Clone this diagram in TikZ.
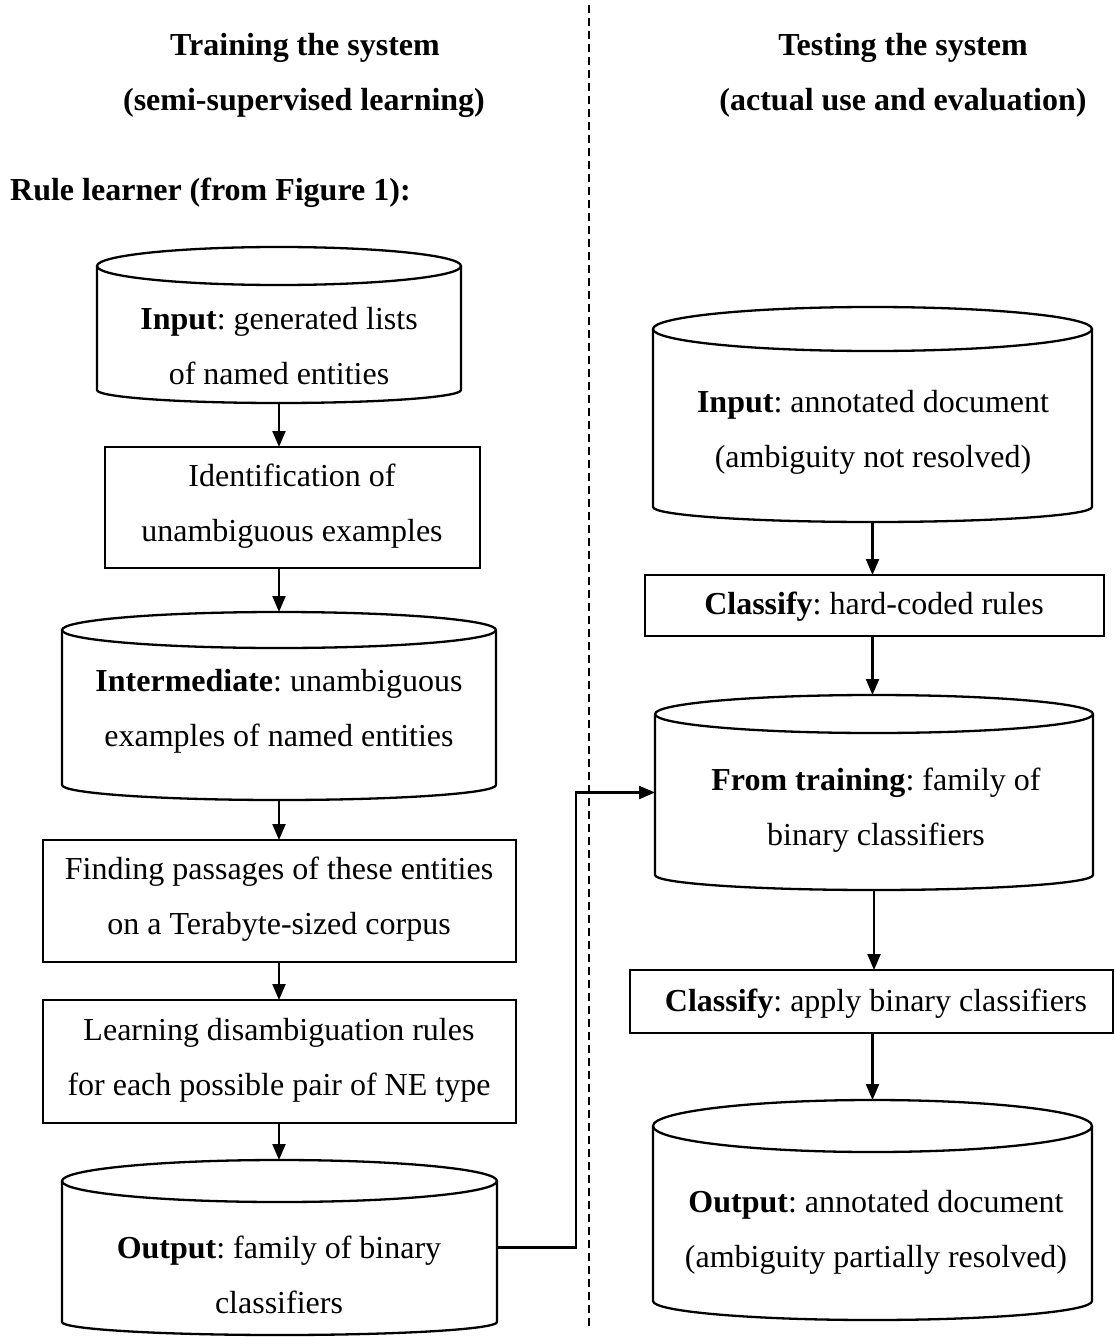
\documentclass[tikz,border=0pt]{standalone}
\usepackage{fontspec}
\setmainfont{Liberation Serif}
\usetikzlibrary{arrows.meta}
\frenchspacing

\tikzset{
  outline/.style={line width=2.3pt, line join=round},
  region/.style={draw=none, inner sep=0pt, outer sep=0pt, rectangle},
  stepbox/.style={draw, line width=2.3pt, inner sep=0pt, outer sep=0pt, rectangle},
  txt/.style={inner sep=0pt, align=center, font=\fontsize{32}{55}\selectfont},
  heading/.style={inner sep=0pt, align=center, font=\fontsize{32}{55}\selectfont\bfseries},
  flow/.style={line width=2.2pt, -{Triangle[length=16pt, width=13pt]}},
  divider/.style={line width=2.2pt, dash pattern=on 8pt off 5pt},
}

% Data store drawn as a cylinder: name, left, right, top, bottom, top radius, bottom depth
\newcommand\datastore[7]{%
  \node[region, minimum width={(#3-#2)*1pt}, minimum height={(#5-#4)*1pt}]
    (#1) at ({(#2+#3)/2},{-(#4+#5)/2}) {};
  \draw[outline] (#2,{-#4-#6}) -- (#2,{-#5+#7})
    arc[start angle=180, end angle=360, x radius={(#3-#2)/2}, y radius=#7]
    -- (#3,{-#4-#6});
  \draw[outline] ({(#2+#3)/2},{-#4-#6}) ellipse[x radius={(#3-#2)/2}, y radius=#6];
}
% Process box: name, left, right, top, bottom
\newcommand\procbox[5]{%
  \node[stepbox, minimum width={(#3-#2)*1pt}, minimum height={(#5-#4)*1pt}]
    (#1) at ({(#2+#3)/2},{-(#4+#5)/2}) {};
}

\begin{document}
\begin{tikzpicture}[x=1pt, y=1pt]
\useasboundingbox (0,0) rectangle (1114,-1337);

% column headings
\node[heading] (trainA) at (305,-48) {Training the system};
\node[heading] (trainB) at (304,-103) {(semi-supervised learning)};
\node[heading] (testA) at (903,-48) {Testing the system};
\node[heading] (testB) at (903,-103) {(actual use and evaluation)};
\node[heading, anchor=west] (rule) at (10,-193) {Rule learner (from Figure 1):};

% separator between the two phases
\coordinate (sepTop) at (589,-5);
\coordinate (sepBot) at (589,-1330);
\draw[divider] (sepTop) -- (sepBot);

% ---- training column ----
\datastore{inA}{97}{461}{247}{403}{19}{13}
\node[txt] (inAt) at (279,-346) {\textbf{Input}: generated lists\\of named entities};

\procbox{ident}{105}{480}{447}{568}
\node[txt] (identt) at (292,-506) {Identification of\\unambiguous examples};

\datastore{mid}{62}{496}{612}{800}{18}{15}
\node[txt] (midt) at (279,-711) {\textbf{Intermediate}: unambiguous\\examples of named entities};

\procbox{find}{43}{516}{840}{962}
\node[txt] (findt) at (279,-899) {Finding passages of these entities\\on a Terabyte-sized corpus};

\procbox{learn}{43}{516}{1000}{1123}
\node[txt] (learnt) at (279,-1060) {Learning disambiguation rules\\for each possible pair of NE type};

\datastore{outA}{62}{497}{1160}{1335}{21}{13}
\node[txt] (outAt) at (279,-1275) {\textbf{Output}: family of binary\\classifiers};

\draw[flow] (inA.south) -- (inA.south |- ident.north);
\draw[flow] (inA.south |- ident.south) -- (inA.south |- mid.north);
\draw[flow] (inA.south |- mid.south) -- (inA.south |- find.north);
\draw[flow] (inA.south |- find.south) -- (inA.south |- learn.north);
\draw[flow] (inA.south |- learn.south) -- (inA.south |- outA.north);

% ---- testing column ----
\datastore{inB}{653}{1092}{307}{522}{22}{15}
\node[txt] (inBt) at (873,-432) {\textbf{Input}: annotated document\\(ambiguity not resolved)};

\procbox{hard}{645}{1104}{575}{636}
\node[txt] (hardt) at (874,-607) {\textbf{Classify}: hard-coded rules};

\datastore{fam}{655}{1093}{695}{890}{19}{15}
\node[txt] (famt) at (876,-810) {\textbf{From training}: family of\\binary classifiers};

\procbox{apply}{630}{1113}{970}{1033}
\node[txt] (applyt) at (876,-1004) {\textbf{Classify}: apply binary classifiers};

\datastore{outB}{653}{1092}{1100}{1320}{26}{19}
\node[txt] (outBt) at (876,-1232) {\textbf{Output}: annotated document\\(ambiguity partially resolved)};

\draw[flow] (inB.south) -- (inB.south |- hard.north);
\draw[flow] (inB.south |- hard.south) -- (inB.south |- fam.north);
\draw[flow] (fam.south) -- (fam.south |- apply.north);
\draw[flow] (inB.south |- apply.south) -- (inB.south |- outB.north);

% learned classifiers handed over to the testing phase
\coordinate (bend) at (576,0);
\draw[flow] (outA.east) -| (bend |- fam.west) -- (fam.west);
\end{tikzpicture}
\end{document}
